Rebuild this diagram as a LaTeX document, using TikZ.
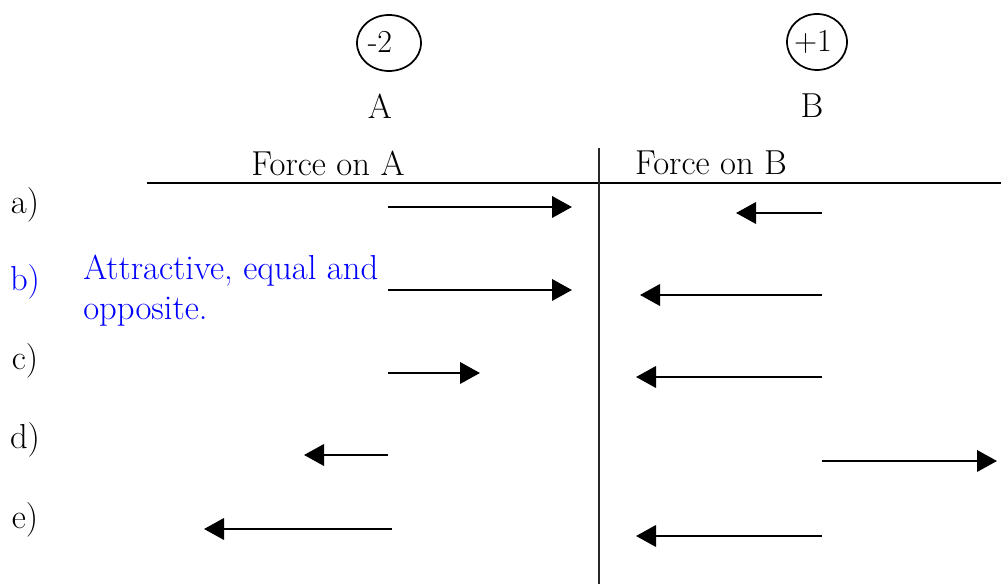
\documentclass[tikz,border=0pt]{standalone}
\usetikzlibrary{arrows.meta}
\definecolor{ansblue}{RGB}{0,0,255}
\definecolor{rulegrey}{RGB}{40,40,40}
\begin{document}
\begin{tikzpicture}[x=0.75pt,y=-0.75pt,
  txt/.style={font=\fontsize{26}{30}\selectfont, inner sep=0pt, anchor=center},
  force/.style={line width=2pt, -{Triangle[length=15pt,width=16pt]}},
  rule/.style={line width=1.5pt}]
\useasboundingbox (0,0) rectangle (1001,584);
% charges
\draw[line width=1.3pt] (389,43) ellipse [x radius=32, y radius=28];
\node[txt, font=\fontsize{24}{28}\selectfont] (qa) at (380,42) {-2};
\draw[line width=1.3pt] (817,42) ellipse [x radius=30, y radius=28];
\node[txt, font=\fontsize{24}{28}\selectfont] (qb) at (813,42) {+1};
\node[txt] (la) at (380,106) {A};
\node[txt] (lb) at (812,106) {B};
% table
\node[txt] (fa) at (328,163) {Force on A};
\node[txt] (fb) at (711,163) {Force on B};
\coordinate (hl) at (147,183);
\coordinate (hr) at (1001,183);
\draw[rule] (hl) -- (hr);
\coordinate (vt) at (599,148);
\coordinate (vb) at (599,584);
\draw[rule, draw=rulegrey, line width=1.3pt] (vt) -- (vb);
% row labels
\node[txt] (ra) at (25,205) {a)};
\node[txt, text=ansblue] (rb) at (25,282) {b)};
\node[txt] (rc) at (25,361) {c)};
\node[txt] (rd) at (25,440) {d)};
\node[txt] (re) at (25,520) {e)};
\node[txt, text=ansblue, anchor=west, align=left] (ans) at (83,291) {Attractive, equal and\\opposite.};
% arrows
\coordinate (a1s) at (388,207); \coordinate (a1e) at (572,207);
\coordinate (b1s) at (822,213); \coordinate (b1e) at (736,213);
\coordinate (a2s) at (388,290); \coordinate (a2e) at (572,290);
\coordinate (b2s) at (822,295); \coordinate (b2e) at (640,295);
\coordinate (a3s) at (388,373); \coordinate (a3e) at (480,373);
\coordinate (b3s) at (822,377); \coordinate (b3e) at (636,377);
\coordinate (a4s) at (388,455); \coordinate (a4e) at (304,455);
\coordinate (b4s) at (822,461); \coordinate (b4e) at (997,461);
\coordinate (a5s) at (392,529); \coordinate (a5e) at (204,529);
\coordinate (b5s) at (822,536); \coordinate (b5e) at (636,536);
\foreach \p in {a1,b1,a2,b2,a3,b3,a4,b4,a5,b5}
  \draw[force] (\p s) -- (\p e);
\end{tikzpicture}
\end{document}
